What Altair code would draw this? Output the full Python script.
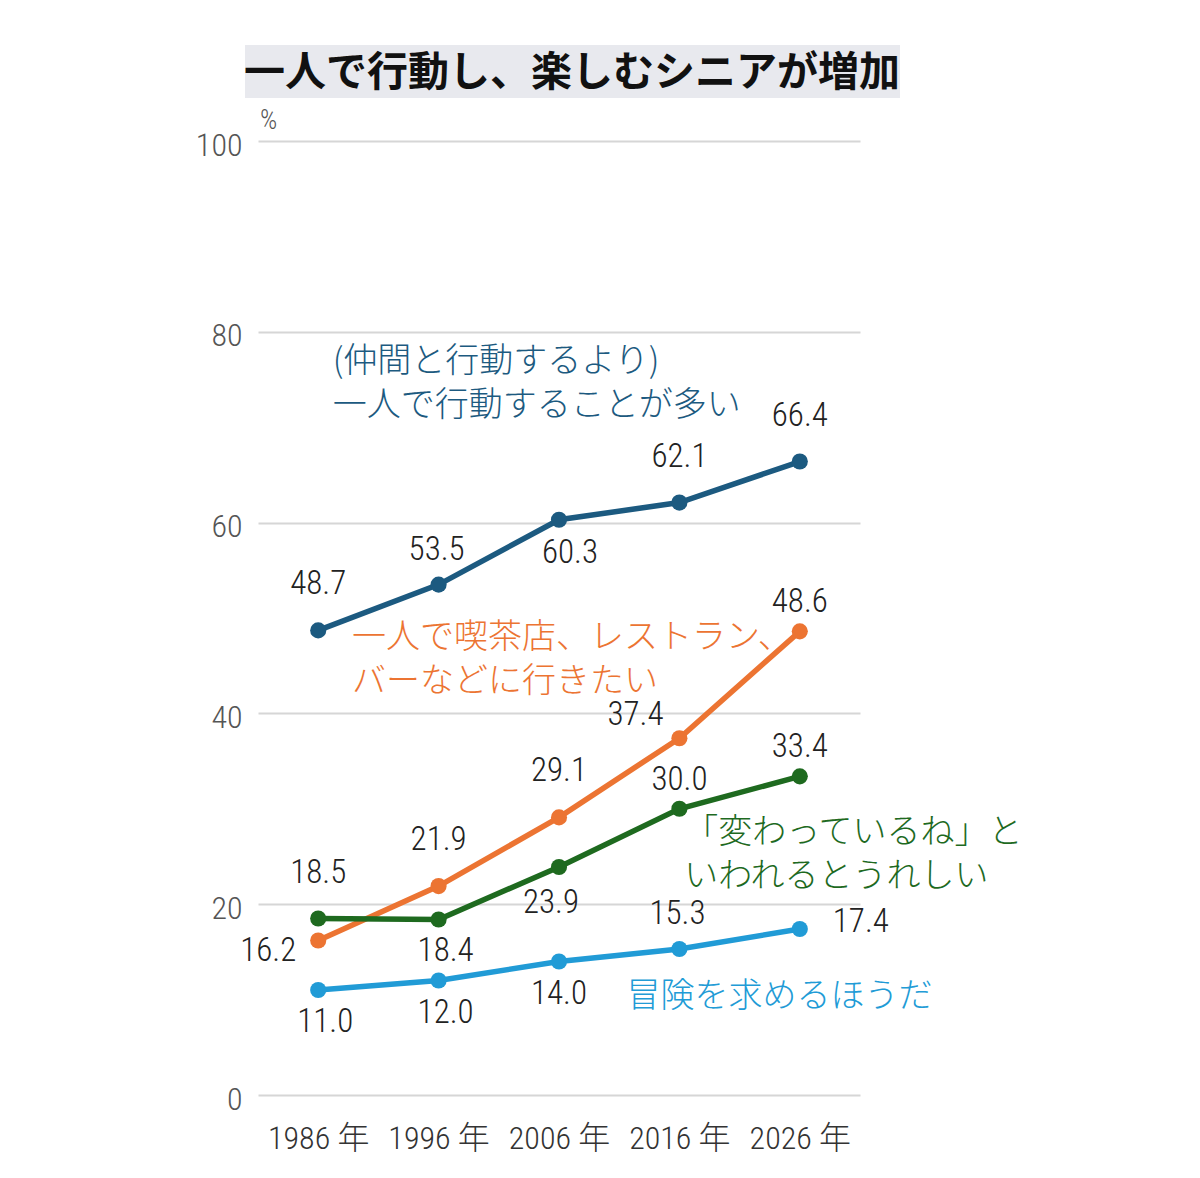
import altair as alt
import pandas as pd

# ---- data -------------------------------------------------------------
years = [1986, 1996, 2006, 2016, 2026]

series_keys = ["alone", "cafe", "odd", "adventure"]
values_alone = [48.7, 53.5, 60.3, 62.1, 66.4]
values_cafe = [16.2, 21.9, 29.1, 37.4, 48.6]
values_odd = [18.5, 18.4, 23.9, 30.0, 33.4]
values_adventure = [11.0, 12.0, 14.0, 15.3, 17.4]

series_lines = [
    ["(仲間と行動するより)", "一人で行動することが多い"],
    ["一人で喫茶店、レストラン、", "バーなどに行きたい"],
    ["「変わっているね」と", "いわれるとうれしい"],
    ["冒険を求めるほうだ"],
]
# where each series name is written (year, percent of its first line)
name_anchor_year = [1987.2, 1988.8, 2016.4, 2011.6]
name_anchor_value = [76.8, 47.9, 27.5, 10.3]

series_colors = ["#1c5a80", "#ec7432", "#1e6a1f", "#219bd6"]

title_text = "一人で行動し、楽しむシニアが増加"
y_ticks = [0, 20, 40, 60, 80, 100]

# value label placement around each point
placements = {
    "alone": ["up", "up_mid", "down_r", "up", "up"],
    "cafe": ["left", "up", "up", "up_left", "up_close"],
    "odd": ["up", "down", "down_l", "up_close", "up_close"],
    "adventure": ["down", "down", "down_c", "up_mid", "right"],
}
offsets = {
    "up": (0, -46),
    "up_mid": (-2, -35),
    "up_close": (0, -29),
    "up_left": (-44, -23),
    "down": (7, 32),
    "down_c": (0, 33),
    "down_r": (11, 33),
    "down_l": (-8, 36),
    "left": (-50, 11),
    "right": (61, -7),
}

all_values = [values_alone, values_cafe, values_odd, values_adventure]
rows = []
for key, vals in zip(series_keys, all_values):
    for yr, v, pl in zip(years, vals, placements[key]):
        rows.append({"series": key, "year": yr, "value": v, "place": pl})
df = pd.DataFrame(rows)

name_rows = []
for key, lines, ay, av in zip(series_keys, series_lines, name_anchor_year, name_anchor_value):
    for i, line in enumerate(lines):
        name_rows.append({"series": key, "year": ay, "value": av - i * 4.6, "text": line})
names_df = pd.DataFrame(name_rows)

# ---- chart ------------------------------------------------------------
JP = "Noto Sans CJK JP"
NUM = "Roboto Condensed, DejaVu Sans Condensed, Liberation Sans Narrow, Noto Sans CJK JP"
NUM_W = 300

color = alt.Color(
    "series:N",
    scale=alt.Scale(domain=series_keys, range=series_colors),
    legend=None,
)
x_enc = alt.X(
    "year:Q",
    scale=alt.Scale(domain=[1981, 2031], nice=False, zero=False),
    axis=alt.Axis(
        values=years,
        labelExpr="datum.value + ' 年'",
        domain=False,
        ticks=False,
        grid=False,
        labelFont=NUM,
        labelFontWeight=NUM_W,
        labelFontSize=32,
        labelColor="#333333",
        labelPadding=28,
    ),
    title=None,
)
y_enc = alt.Y(
    "value:Q",
    scale=alt.Scale(domain=[0, 100], nice=False),
    axis=alt.Axis(
        values=y_ticks,
        domain=False,
        ticks=False,
        grid=True,
        gridColor="#d6d6d6",
        gridWidth=2,
        labelFont=NUM,
        labelFontWeight=NUM_W,
        labelFontSize=32,
        labelColor="#555555",
        labelPadding=16,
        labelOffset=4,
        title="%",
        titleAngle=0,
        titleX=10,
        titleY=-21,
        titleAlign="center",
        titleBaseline="middle",
        titleFont=NUM,
        titleFontSize=27,
        titleFontWeight=NUM_W,
        titleColor="#555555",
    ),
)

base = alt.Chart(df)
lines = base.mark_line(strokeWidth=5.5).encode(x=x_enc, y=y_enc, color=color, detail="series:N")
points = base.mark_circle(size=260, opacity=1).encode(x="year:Q", y="value:Q", color=color)

value_layers = []
for pl, (dx, dy) in offsets.items():
    value_layers.append(
        base.transform_filter(alt.datum.place == pl)
        .mark_text(dx=dx, dy=dy, font=NUM, fontWeight=NUM_W, fontSize=33,
                   color="#222222", baseline="middle", align="center")
        .encode(x="year:Q", y="value:Q", text=alt.Text("value:Q", format=".1f"))
    )

names = (
    alt.Chart(names_df)
    .mark_text(font=JP, fontWeight=300, fontSize=34, align="left", baseline="middle")
    .encode(x="year:Q", y="value:Q", text="text:N", color=color)
)

one = alt.Data(values=[{}])
title_box = alt.Chart(one).mark_rect(color="#e8e9ee").encode(
    x=alt.value(-13), x2=alt.value(642), y=alt.value(-96), y2=alt.value(-43)
)
title = alt.Chart(one).mark_text(
    text=title_text, font=JP, fontSize=41, fontWeight="bold", color="#111111",
    align="center", baseline="middle",
).encode(x=alt.value(314), y=alt.value(-67))

chart = (
    alt.layer(title_box, title, lines, points, *value_layers, names)
    .properties(
        width=602,
        height=954,
        autosize=alt.AutoSizeParams(type="none"),
        padding={"left": 258, "top": 141, "right": 340, "bottom": 83},
        background="white",
    )
    .configure_view(stroke=None)
)

chart.save("out.html", embed_options={"renderer": "svg", "actions": False})
